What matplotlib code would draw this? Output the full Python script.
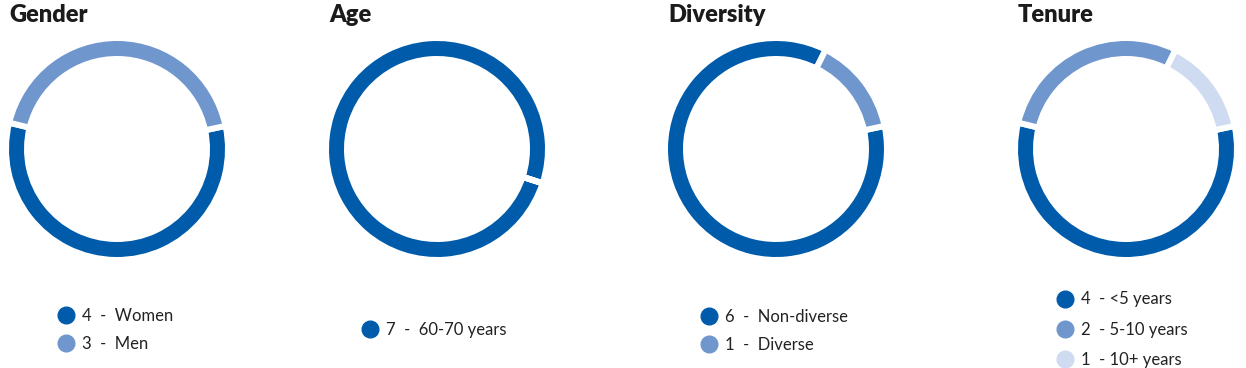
import matplotlib
matplotlib.use("Agg")
import matplotlib.pyplot as plt
from matplotlib.lines import Line2D
import numpy as np

plt.rcParams['font.family'] = ['Lato', 'DejaVu Sans']

titles = ["Gender", "Age", "Diversity", "Tenure"]
gender_labels = ["Women", "Men"]
gender_values = [4, 3]
age_labels = ["60-70 years"]
age_values = [7]
diversity_labels = ["Non-diverse", "Diverse"]
diversity_values = [6, 1]
tenure_labels = ["<5 years", "5-10 years", "10+ years"]
tenure_values = [4, 2, 1]

colors = ["#005baa", "#7097cd", "#cfdbf0"]
W, H = 1246, 368

# layout in pixels: donut center x, center y, legend marker x, legend center y, start angle
layout = [
    (117, 149, 58, 330, 12, "  -  ", 0.75),
    (437, 149, 362, 330, -18, "  -  ", 0.75),
    (776, 149, 701, 331, 12, "  -  ", 0.75),
    (1126, 149, 1057, 329.5, 12, "  - ", 0.85),
]
data = [
    (gender_labels, gender_values),
    (age_labels, age_values),
    (diversity_labels, diversity_values),
    (tenure_labels, tenure_values),
]

fig = plt.figure(figsize=(W / 100, H / 100), dpi=100)

R = 111  # px, outer radius incl. half the edge
ring = 21  # px
gap = 6  # px
for title, (cx, cy, lx, ly, start, sep, spacing), (labels, values) in zip(titles, layout, data):
    ax = fig.add_axes([(cx - R) / W, (H - cy - R) / H, 2 * R / W, 2 * R / H])
    ax.pie(values, colors=colors[:len(values)], startangle=start, counterclock=False,
           radius=1, wedgeprops=dict(width=ring / R, edgecolor="white", linewidth=gap * 0.72))
    if len(values) == 1:
        a = np.radians(start)
        ax.plot([0.7 * np.cos(a), 1.05 * np.cos(a)], [0.7 * np.sin(a), 1.05 * np.sin(a)],
                color="white", lw=gap * 0.72, solid_capstyle="butt")
    ax.set_xlim(-1, 1)
    ax.set_ylim(-1, 1)
    ax.set_aspect("equal")
    ax.axis("off")

    fig.text((cx - 108) / W, (H - 15) / H, title, fontsize=17, fontweight="heavy",
             color="#1b1b1b", va="center", ha="left")

    handles = [Line2D([], [], marker="o", linestyle="none", markersize=12,
                      markerfacecolor=c, markeredgecolor=c) for c in colors[:len(values)]]
    texts = [f"{v}{sep}{l}" for v, l in zip(values, labels)]
    fig.legend(handles, texts, loc="center left", bbox_to_anchor=(lx / W, (H - ly) / H),
               frameon=False, fontsize=12, labelcolor="#222222", handlelength=1.0,
               handletextpad=0.42, labelspacing=spacing, borderpad=0, borderaxespad=0)

fig.savefig("out.png", dpi=100, facecolor="white")
